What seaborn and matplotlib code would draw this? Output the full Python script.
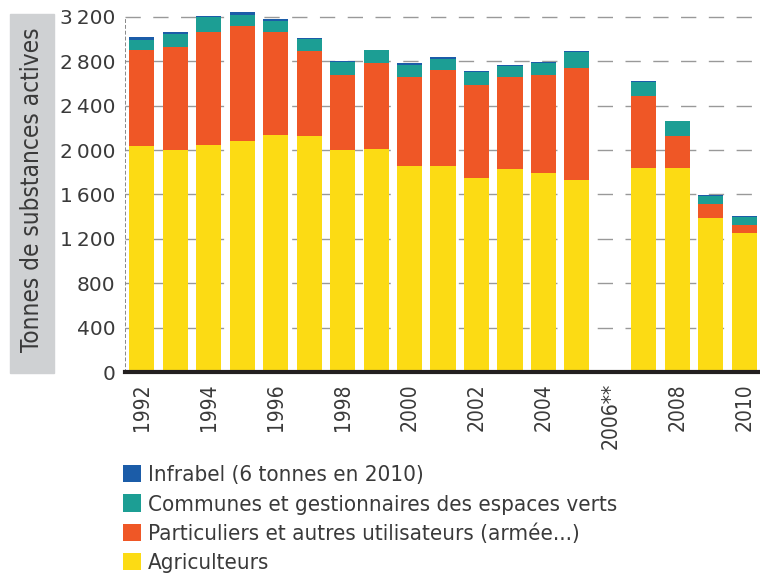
"""
Stacked bar chart: tonnes of active substances by user group, 1992-2010.
"""

import numpy as np
import pandas as pd
import matplotlib
matplotlib.use("Agg")
import matplotlib.pyplot as plt
import seaborn as sns
from matplotlib import font_manager
from matplotlib.patches import Patch, Rectangle
from matplotlib.ticker import FuncFormatter

# Data (2006 has no data)
years = ["1992", "1993", "1994", "1995", "1996", "1997", "1998", "1999", "2000",
         "2001", "2002", "2003", "2004", "2005", "2006**", "2007", "2008", "2009",
         "2010"]
agriculteurs = [2040, 2000, 2045, 2085, 2135, 2125, 2000, 2010, 1855,
                1855, 1745, 1825, 1795, 1730, 0, 1835, 1835, 1385, 1250]
particuliers = [860, 930, 1020, 1035, 925, 765, 680, 770, 805,
                870, 845, 835, 885, 1010, 0, 655, 290, 125, 75]
communes = [95, 120, 130, 100, 100, 115, 110, 120, 110,
            97, 115, 95, 105, 145, 0, 125, 135, 80, 75]
infrabel = [25, 10, 12, 25, 22, 8, 15, 6, 15,
            16, 5, 15, 10, 5, 0, 5, 5, 8, 6]

labels = ["Infrabel (6 tonnes en 2010)",
          "Communes et gestionnaires des espaces verts",
          "Particuliers et autres utilisateurs (armée...)",
          "Agriculteurs"]
colors = ["#1b5ca8", "#1c9e94", "#ef5726", "#fcdb14"]

TEXT = "#3a3a3a"

# the reference uses a condensed face; use DejaVu Sans Condensed if present
has_cond = any(f.name == "DejaVu Sans" and f.stretch == "condensed"
               for f in font_manager.fontManager.ttflist)
k = 1.0 if has_cond else 0.9
narrow = {"family": "DejaVu Sans", "stretch": "condensed" if has_cond else "normal"}

df = pd.DataFrame({"year": years})
df["l1"] = np.array(agriculteurs)
df["l2"] = df["l1"] + np.array(particuliers)
df["l3"] = df["l2"] + np.array(communes)
df["l4"] = df["l3"] + np.array(infrabel)

sns.set_style("white")
fig = plt.figure(figsize=(7.6, 5.85), dpi=100)
ax = fig.add_axes([125 / 760, 213 / 585, 636 / 760, 364 / 585])

# overlapping bars, tallest first, gives the stacked look
for col, color in zip(["l4", "l3", "l2", "l1"], colors):
    sns.barplot(data=df, x="year", y=col, order=years, color=color,
                saturation=1, width=0.75, errorbar=None, linewidth=0, ax=ax)

ax.set_xlim(-0.5, 18.5)
ax.set_ylim(0, 3280)
ax.set_yticks(np.arange(0, 3201, 400))
ax.yaxis.set_major_formatter(FuncFormatter(lambda v, p: f"{int(v):,}".replace(",", "\u2009")))
ax.set_axisbelow(True)
ax.yaxis.grid(True, color="#999999", linewidth=1.0, linestyle=(0, (11, 9)))
ax.set_xlabel("")
ax.set_ylabel("")

for side in ["top", "right"]:
    ax.spines[side].set_visible(False)
ax.spines["left"].set_bounds(0, 3200)
ax.spines["left"].set_linestyle((0, (3, 3)))
ax.spines["left"].set_linewidth(0.7)
ax.spines["left"].set_color("#888888")
ax.spines["bottom"].set_linewidth(3)
ax.spines["bottom"].set_color("#231f20")
ax.spines["bottom"].set_zorder(5)

ax.set_xticks(range(len(years)))
ax.set_xticklabels([y if i % 2 == 0 else "" for i, y in enumerate(years)],
                   rotation=90, fontsize=15 * k, color=TEXT, **narrow)
ax.set_xticks(np.arange(0.5, len(years) - 1, 1), minor=True)
ax.tick_params(axis="x", which="major", length=0, pad=8)
ax.tick_params(axis="x", which="minor", direction="in", length=7,
               width=3.5, color="#231f20")
ax.tick_params(axis="y", length=0, pad=7, labelsize=14.5, labelcolor=TEXT)

# grey box behind the y label
fig.patches.append(Rectangle((10 / 760, 1 - 373 / 585), 44 / 760, 359 / 585,
                             transform=fig.transFigure, color="#cfd1d3", zorder=0))
fig.text(32 / 760, 1 - 190 / 585, "Tonnes de substances actives", rotation=90,
         ha="center", va="center", fontsize=17.5 * k, color=TEXT, **narrow)

handles = [Patch(facecolor=c, edgecolor="none") for c in colors]
fig.legend(handles, labels, loc="upper left", bbox_to_anchor=(123 / 760, 1 - 465 / 585),
           frameon=False, prop=font_manager.FontProperties(size=16 * k, **narrow),
           labelcolor=TEXT, handlelength=0.82, handleheight=0.82, handletextpad=0.32,
           labelspacing=0.4, borderaxespad=0, borderpad=0)

plt.savefig("out.png", dpi=100)
plt.close()
